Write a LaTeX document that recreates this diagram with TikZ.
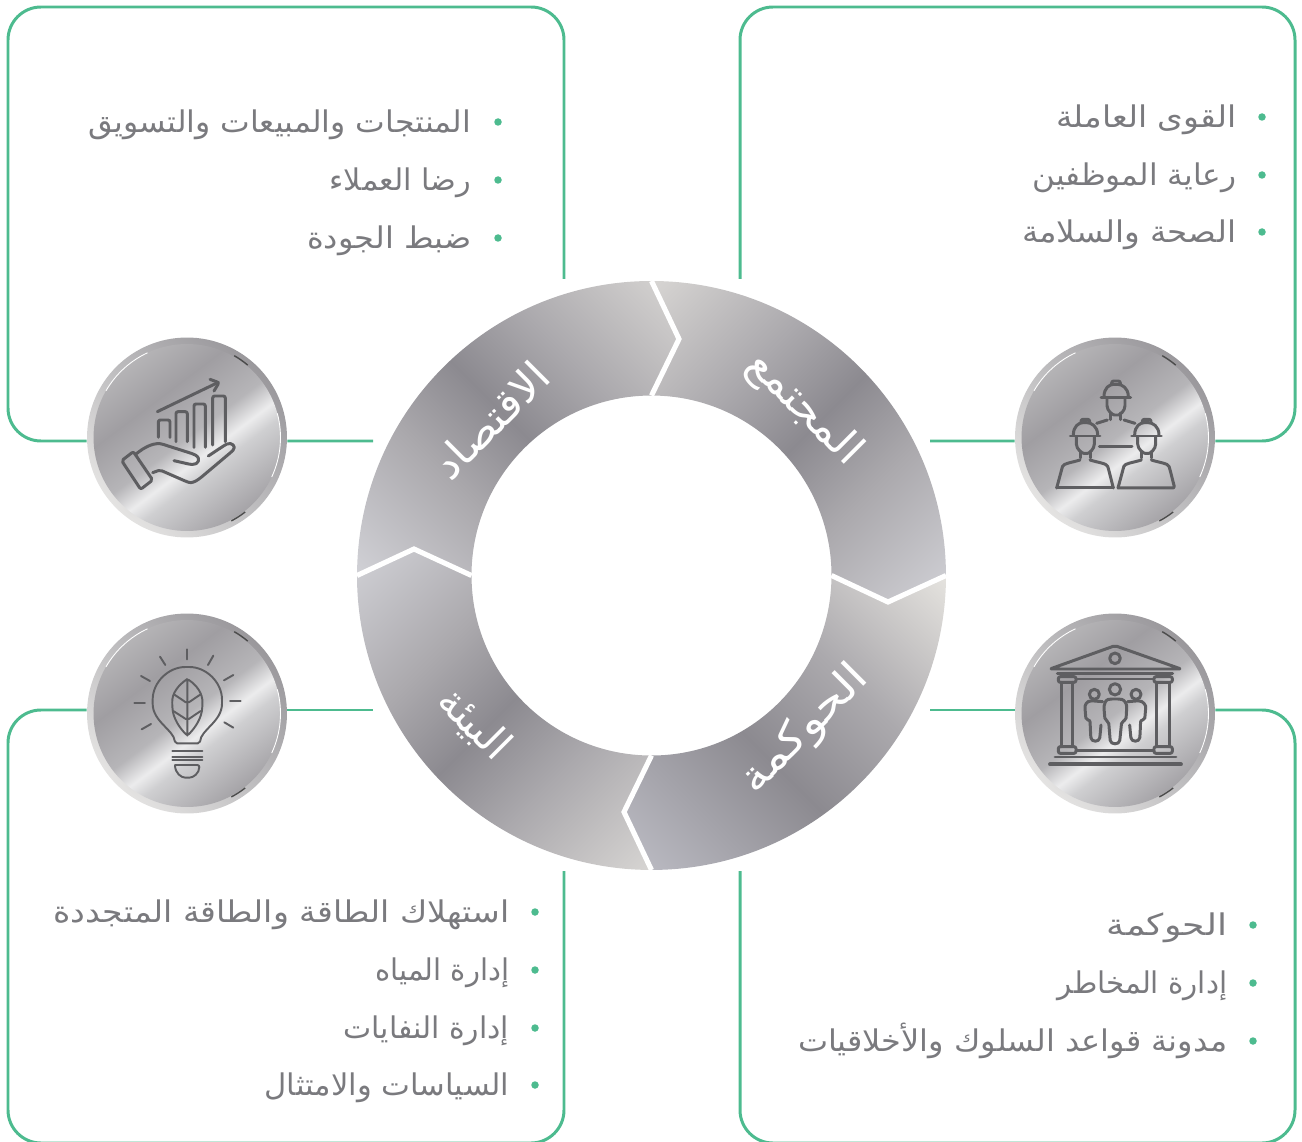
\documentclass[tikz,border=0pt]{standalone}
\usepackage{fontspec}
\usetikzlibrary{calc}
\usetikzlibrary{positioning}
\TeXXeTstate=1
\newfontfamily\arabicfont[Script=Arabic]{DejaVu Sans}
\newcommand{\ar}[2][1]{\scalebox{#1}[1]{\arabicfont\beginR #2\endR}}
\definecolor{framegreen}{HTML}{4DBB8F}
\definecolor{itemgray}{HTML}{7A7A7E}
\definecolor{icongray}{HTML}{5E5E61}
\definecolor{ringdark}{HTML}{8C8A90}
\definecolor{ringmid}{HTML}{ABA9AD}
\definecolor{ringsoft}{HTML}{D6D4D2}
\definecolor{ringpale}{HTML}{D0D0D5}
\definecolor{ringblue}{HTML}{BDBDC5}
\definecolor{ringwarm}{HTML}{E4E2DE}
\definecolor{facea}{HTML}{B8B7B9}
\definecolor{faceb}{HTML}{A09EA2}
\definecolor{facec}{HTML}{B6B5B8}
\definecolor{faced}{HTML}{ECECED}
\definecolor{facee}{HTML}{CFCFD1}
\definecolor{rima}{HTML}{9A989C}
\definecolor{rimb}{HTML}{BDBCBE}
\definecolor{rimc}{HTML}{E4E3E2}
\pgfdeclarehorizontalshading{medalface}{100bp}{color(0bp)=(facea); color(25bp)=(facea); color(38bp)=(faceb); color(50bp)=(facec); color(56bp)=(faced); color(60bp)=(facee); color(75bp)=(faceb); color(100bp)=(faceb)}
\pgfdeclarehorizontalshading{medalrim}{100bp}{color(0bp)=(rimc); color(25bp)=(rimc); color(50bp)=(rimb); color(75bp)=(rima); color(100bp)=(rima)}
\pgfdeclareverticalshading{ringband}{100bp}{color(0bp)=(ringpale); color(15bp)=(ringpale); color(36bp)=(ringmid); color(50bp)=(ringdark); color(64bp)=(ringmid); color(85bp)=(ringsoft); color(100bp)=(ringsoft)}
\pgfdeclareverticalshading{govband}{100bp}{color(0bp)=(ringblue); color(15bp)=(ringblue); color(44bp)=(ringdark); color(62bp)=(ringmid); color(85bp)=(ringwarm); color(100bp)=(ringwarm)}
\tikzset{
  frame/.style={draw=framegreen,line width=1.7pt},
  cornered/.style={rounded corners=0.66cm},
  gapline/.style={draw=white,line width=2.9pt,miter limit=10},
  ringlabel/.style={text=white,inner sep=0pt,font=\fontsize{24}{28}\selectfont},
  listitem/.style={text=itemgray,inner sep=0pt,anchor=base east,font=\fontsize{17}{20}\selectfont},
  listdot/.style={circle,fill=framegreen,inner sep=0pt,minimum size=0.15cm},
  icon/.style={draw=icongray,line width=1.7pt,line cap=round,line join=round,rounded corners=0.04cm},
  thinicon/.style={icon,line width=1.1pt},
  medal/.style={circle,inner sep=0pt,minimum size=4cm,shading=medalrim,shading angle=45,
    path picture={
      \shade[shading=medalface,shading angle=-53] (path picture bounding box.center) circle (1.87cm);
      \draw[white,line width=0.5pt] (path picture bounding box.center) ++(115:1.87cm) arc[start angle=115,end angle=150,radius=1.87cm];
      \draw[white,line width=0.5pt] (path picture bounding box.center) ++(-25:1.87cm) arc[start angle=-25,end angle=15,radius=1.87cm];
      \draw[black!70,line width=0.8pt] (path picture bounding box.center) ++(50:1.89cm) arc[start angle=50,end angle=60,radius=1.89cm];
      \draw[black!70,line width=0.8pt] (path picture bounding box.center) ++(-52:1.89cm) arc[start angle=-52,end angle=-62,radius=1.89cm];
    }},
  worker/.pic={
    \draw[icon] (-44,0) -- (45,0);
    \draw[icon] (-35,-3) .. controls (-35,-30) and (-18,-40) .. (0,-40) .. controls (18,-40) and (38,-30) .. (38,-3);
    \draw[icon] (-12,-40) -- (-12,-50) -- (14,-50) -- (14,-40);
    \draw[icon] (-26,3) -- (-26,18) .. controls (-26,40) and (-8,52) .. (2,52) .. controls (12,52) and (28,40) .. (28,18) -- (28,3);
    \draw[icon] (-15,46) -- (-15,66);
    \draw[icon] (15,46) -- (15,66);
  }
}

\begin{document}
\begin{tikzpicture}[x=0.02cm,y=-0.02cm]
\useasboundingbox (0,0) rectangle (1302,1142);

% the ring corners
\coordinate (topin) at (651.5,395.5);
\coordinate (toptip) at (679,339);
\coordinate (topout) at (651.5,281);
\coordinate (rightin) at (831.5,575.5);
\coordinate (righttip) at (888,602);
\coordinate (rightout) at (946,575.5);
\coordinate (botin) at (651.5,755.5);
\coordinate (bottip) at (624,812);
\coordinate (botout) at (651.5,870);
\coordinate (leftin) at (471.5,575.5);
\coordinate (lefttip) at (414,549);
\coordinate (leftout) at (357,575.5);

% four parts of the ring
\shade[shading=ringband,shading angle=45]
  (topin) -- (toptip) -- (topout) arc[start angle=90,end angle=0,radius=5.89cm]
  -- (righttip) -- (rightin) arc[start angle=0,end angle=90,radius=3.6cm] -- cycle;
\shade[shading=ringband,shading angle=-45]
  (topin) -- (toptip) -- (topout) arc[start angle=90,end angle=180,radius=5.89cm]
  -- (lefttip) -- (leftin) arc[start angle=180,end angle=90,radius=3.6cm] -- cycle;
\shade[shading=govband,shading angle=-45]
  (rightin) -- (righttip) -- (rightout) arc[start angle=0,end angle=-90,radius=5.89cm]
  -- (bottip) -- (botin) arc[start angle=-90,end angle=0,radius=3.6cm] -- cycle;
\shade[shading=ringband,shading angle=225]
  (leftin) -- (lefttip) -- (leftout) arc[start angle=180,end angle=270,radius=5.89cm]
  -- (bottip) -- (botin) arc[start angle=270,end angle=180,radius=3.6cm] -- cycle;
\draw[gapline] (topin) -- (toptip) -- (topout);
\draw[gapline] (rightin) -- (righttip) -- (rightout);
\draw[gapline] (botin) -- (bottip) -- (botout);
\draw[gapline] (leftin) -- (lefttip) -- (leftout);

% labels on the ring
\node[ringlabel,rotate=-45] (society) at (804,409) {\ar[1.05]{المجتمع}};
\node[ringlabel,rotate=45] (economy) at (491,420) {\ar[1.06]{الاقتصاد}};
\node[ringlabel,rotate=45] (governance) at (805,730) {\ar[1.16]{الحوكمة}};
\node[ringlabel,rotate=-45] (environment) at (474,724) {\ar[0.97]{البيئة}};

% the four medals
\node[medal] (medaleco) at (187,437.5) {};
\node[medal] (medalsoc) at (1115,437.5) {};
\node[medal] (medalenv) at (187,713.5) {};
\node[medal] (medalgov) at (1115,713.5) {};

% frames
\coordinate (ecoend) at (564,279);
\coordinate (socend) at (740,279);
\coordinate (envend) at (564,871);
\coordinate (govend) at (740,871);
\coordinate (ecostub) at (373,441);
\coordinate (socstub) at (930,441);
\coordinate (envstub) at (373,710);
\coordinate (govstub) at (930,710);
\draw[frame,cornered] (ecoend) -- (564,7) -- (8,7) -- (8,441) -- ($(medaleco.west)+(0,3.5)$);
\draw[frame,cornered] (socend) -- (740,7) -- (1295,7) -- (1295,441) -- ($(medalsoc.east)+(0,3.5)$);
\draw[frame,cornered] (envend) -- (564,1143) -- (8,1143) -- (8,710) -- ($(medalenv.west)+(0,-3.5)$);
\draw[frame,cornered] (govend) -- (740,1143) -- (1295,1143) -- (1295,710) -- ($(medalgov.east)+(0,-3.5)$);
\draw[frame] ($(medaleco.east)+(0,3.5)$) -- (ecostub);
\draw[frame] ($(medalsoc.west)+(0,3.5)$) -- (socstub);
\draw[frame] ($(medalenv.east)+(0,-3.5)$) -- (envstub);
\draw[frame] ($(medalgov.west)+(0,-3.5)$) -- (govstub);

% hand and chart
\begin{scope}[shift={(70,330)},x=0.00667cm,y=-0.00667cm]
\draw[icon] (262,245) -- (445,157);
\draw[icon] (420,148) -- (447,158) -- (432,183);
\draw[icon] (265,322) -- (265,270) -- (300,270) -- (300,322);
\draw[icon] (318,335) -- (318,245) -- (352,245) -- (352,335);
\draw[icon] (372,352) -- (372,222) -- (406,222) -- (406,352);
\draw[icon] (428,345) -- (428,198) -- (466,198) -- (466,335);
\draw[icon] (155,392) -- (190,365) -- (248,450) -- (212,478) -- cycle;
\draw[icon] (198,372) .. controls (225,350) and (255,335) .. (285,345) -- (370,372)
  .. controls (395,385) and (385,405) .. (360,403) -- (312,392);
\draw[icon] (248,428) -- (270,420) -- (350,455) .. controls (365,460) and (375,455) .. (390,445)
  -- (485,365) .. controls (500,350) and (485,335) .. (465,345) -- (415,378);
\end{scope}

% workers
\begin{scope}[shift={(1000,330)},x=0.00667cm,y=-0.00667cm]
\pic at (347,203) {worker};
\pic at (255,318) {worker};
\pic at (439,318) {worker};
\draw[icon] (290,280) -- (322,270);
\draw[icon] (372,270) -- (405,280);
\draw[icon] (298,350) -- (396,350);
\draw[icon] (170,474) -- (186,415) .. controls (190,400) and (215,398) .. (240,390);
\draw[icon] (270,390) .. controls (295,398) and (320,400) .. (325,415) -- (340,474);
\draw[icon] (170,474) -- (340,474);
\draw[icon] (354,474) -- (370,415) .. controls (374,400) and (399,398) .. (424,390);
\draw[icon] (454,390) .. controls (479,398) and (504,400) .. (509,415) -- (524,474) -- (354,474);
\end{scope}

% bulb and leaf
\begin{scope}[shift={(70,605)},x=0.00667cm,y=-0.00667cm]
\draw[thinicon] (315,415) .. controls (312,375) and (248,350) .. (248,290)
  .. controls (248,232) and (295,186) .. (352,186) .. controls (409,186) and (456,232) .. (456,290)
  .. controls (456,350) and (392,375) .. (390,415) -- cycle;
\draw[thinicon] (307,438) -- (397,438);
\draw[thinicon] (307,457) -- (397,457);
\draw[thinicon] (307,464) -- (397,464);
\draw[thinicon] (315,480) -- (388,480) .. controls (388,505) and (370,518) .. (352,518)
  .. controls (334,518) and (315,505) .. (315,480);
\draw[thinicon] (350,133) -- (350,163);
\draw[thinicon] (270,155) -- (286,180);
\draw[thinicon] (430,152) -- (414,180);
\draw[thinicon] (213,213) -- (240,228);
\draw[thinicon] (490,210) -- (462,226);
\draw[thinicon] (193,293) -- (225,293);
\draw[thinicon] (480,288) -- (512,288);
\draw[thinicon] (215,373) -- (243,357);
\draw[thinicon] (490,368) -- (463,352);
\draw[thinicon] (352,222) .. controls (325,240) and (305,265) .. (307,300) .. controls (308,340) and (330,370) .. (352,392)
  .. controls (374,370) and (396,340) .. (397,300) .. controls (399,265) and (379,240) .. (352,222) -- (352,392);
\draw[thinicon] (312,268) -- (352,295) -- (392,268);
\draw[thinicon] (310,318) -- (352,345) -- (392,318);
\end{scope}

% building and people
\begin{scope}[shift={(1000,605)},x=0.00667cm,y=-0.00667cm]
\draw[icon] (150,192) -- (345,122) -- (543,192) -- cycle;
\draw[icon] (345,160) circle (16);
\draw[icon] (172,206) -- (518,206);
\draw[icon] (175,215) -- (228,215) -- (228,232) -- (175,232) -- cycle;
\draw[icon] (462,215) -- (517,215) -- (517,232) -- (462,232) -- cycle;
\draw[icon] (183,232) -- (183,425);
\draw[icon] (218,232) -- (218,425);
\draw[icon] (470,232) -- (470,425);
\draw[icon] (508,232) -- (508,425);
\draw[icon] (175,425) -- (228,425) -- (228,445) -- (175,445) -- cycle;
\draw[icon] (462,425) -- (517,425) -- (517,445) -- (462,445) -- cycle;
\draw[icon] (228,222) -- (462,222);
\draw[icon] (228,437) -- (462,437);
\draw[icon] (165,456) -- (528,456);
\draw[icon,line width=2.2pt] (150,478) -- (543,478);
\draw[icon] (345,253) circle (17);
\draw[icon] (283,268) circle (15);
\draw[icon] (408,268) circle (15);
\draw[icon] (330,282) .. controls (318,285) and (312,295) .. (312,310) -- (315,345) -- (326,350) -- (330,400)
  .. controls (332,420) and (358,420) .. (360,400) -- (365,350) -- (378,345) -- (380,310) .. controls (380,295) and (372,285) .. (360,282) -- cycle;
\draw[icon] (308,290) -- (270,287) .. controls (260,292) and (255,300) .. (255,310) -- (258,345) -- (270,345) -- (272,392)
  .. controls (274,412) and (298,412) .. (300,392) -- (303,360);
\draw[icon] (383,290) -- (420,287) .. controls (430,292) and (437,300) .. (437,310) -- (434,345) -- (422,345) -- (420,392)
  .. controls (418,412) and (394,412) .. (392,392) -- (389,360);
\end{scope}

% lists of items
\node[listdot] (ecodota) at (498,122) {};
\node[listdot] (ecodotb) at (498,180) {};
\node[listdot] (ecodotc) at (498,238) {};
\node[listitem] (ecoa) at (471.5,132.5) {\ar[1.055]{المنتجات والمبيعات والتسويق}};
\node[listitem] (ecob) at (471.5,190.5) {\ar[1.015]{رضا العملاء}};
\node[listitem] (ecoc) at (471.5,248.5) {\ar[1.07]{ضبط الجودة}};
\node[listdot] (socdota) at (1262,117) {};
\node[listdot] (socdotb) at (1262,175) {};
\node[listdot] (socdotc) at (1262,232) {};
\node[listitem] (soca) at (1236.5,127.5) {\ar[1.1]{القوى العاملة}};
\node[listitem] (socb) at (1236.5,185.5) {\ar[1.04]{رعاية الموظفين}};
\node[listitem] (socc) at (1236.5,242.5) {\ar[1.09]{الصحة والسلامة}};
\node[listdot] (envdota) at (535,912) {};
\node[listdot] (envdotb) at (535,970) {};
\node[listdot] (envdotc) at (535,1028) {};
\node[listdot] (envdotd) at (535,1085) {};
\node[listitem] (enva) at (509.5,922.5) {\ar[1.107]{استهلاك الطاقة والطاقة المتجددة}};
\node[listitem] (envb) at (509.5,980.5) {\ar[0.97]{إدارة المياه}};
\node[listitem] (envc) at (509.5,1038.5) {\ar{إدارة النفايات}};
\node[listitem] (envd) at (509.5,1095.5) {\ar[1.025]{السياسات والامتثال}};
\node[listdot] (govdota) at (1253,925) {};
\node[listdot] (govdotb) at (1253,983) {};
\node[listdot] (govdotc) at (1253,1041) {};
\node[listitem] (gova) at (1227.5,935.5) {\ar[1.21]{الحوكمة}};
\node[listitem] (govb) at (1227.5,993.5) {\ar[0.98]{إدارة المخاطر}};
\node[listitem] (govc) at (1227.5,1051.5) {\ar[1.07]{مدونة قواعد السلوك والأخلاقيات}};
\end{tikzpicture}
\end{document}
